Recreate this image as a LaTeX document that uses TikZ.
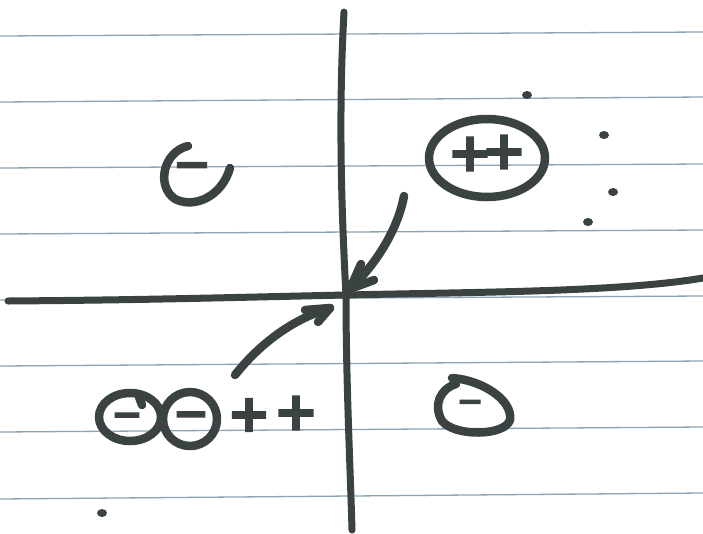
\documentclass[tikz,border=0pt]{standalone}
\usepackage{fontspec}
\usetikzlibrary{shapes.geometric}
\newfontfamily\penfont{DejaVu Sans Bold}[FakeBold=3]
\definecolor{ink}{RGB}{58,66,66}
\definecolor{ruleblue}{RGB}{140,165,182}
\begin{document}
\begin{tikzpicture}[x=1pt,y=-1pt,
  pen/.style={draw=ink, line width=8.5pt, line cap=round, line join=round},
  axisline/.style={draw=ink, line width=7pt, line cap=round},
  ruled/.style={draw=ruleblue, line width=1.3pt},
  sign/.style={text=ink, font=\penfont\fontsize{#1}{#1}\selectfont, inner sep=0pt},
  dotmark/.style={fill=ink, ellipse, inner sep=0pt, minimum width=10pt, minimum height=8pt}]
\useasboundingbox (0,0) rectangle (703,533);
\fill[white] (0,0) rectangle (703,533);
% ruled paper
\foreach \l/\r in {36/32,102/97,168/164,234/230,300/296,366/361,432/427,499/493}
  \draw[ruled] (0,\l) -- (703,\r);
% axes
\coordinate (o) at (346,295);
\coordinate (xl) at (8,301);
\coordinate (xr) at (703,278);
\coordinate (yt) at (344,12);
\coordinate (yb) at (352,530);
\draw[axisline] (xl) .. controls (150,300) and (250,297) .. (o)
  .. controls (480,292) and (620,292) .. (xr);
\draw[axisline] (yt) .. controls (338,120) and (342,220) .. (o)
  .. controls (346,380) and (350,460) .. (yb);
% top-left C with minus
\draw[pen] (188,146) .. controls (163,152) and (156,186) .. (175,199)
  .. controls (195,209) and (222,196) .. (230,168);
\node[sign=46] (m1) at (192,171) {−};
% top-right ellipse with ++
\draw[pen] (487,158) ellipse [x radius=58, y radius=39];
\node[sign=54] (p1) at (470,154) {+};
\node[sign=54] (p2) at (504,152) {+};
% dots
\node[dotmark] (d1) at (527,95) {};
\node[dotmark] (d2) at (604,135) {};
\node[dotmark] (d3) at (613,192) {};
\node[dotmark] (d4) at (588,222) {};
\node[dotmark] (d5) at (102,513) {};
% top-right arrow
\coordinate (a1s) at (404,196);
\coordinate (a1t) at (350,289);
\draw[pen] (a1s) .. controls (398,228) and (378,262) .. (a1t);
\draw[pen] (a1t) -- (361,264);
\draw[pen] (a1t) -- (374,280);
% bottom-left arrow
\coordinate (a2s) at (235,375);
\coordinate (a2t) at (330,308);
\draw[pen] (a2s) .. controls (258,346) and (290,320) .. (a2t);
\draw[pen] (a2t) -- (305,310);
\draw[pen] (a2t) -- (318,322);
% bottom-left circles with minus and ++
\draw[pen] (130,417) ellipse [x radius=31, y radius=24];
\draw[pen] (139,397) -- (142,405);
\node[sign=38] (m2) at (127,420) {−};
\draw[pen] (190,419) ellipse [x radius=27, y radius=27];
\node[sign=44] (m3) at (191,420) {−};
\node[sign=52] (p3) at (249,415) {+};
\node[sign=54] (p4) at (296,413) {+};
% bottom-right loop with minus
\draw[pen] (452,378) .. controls (482,380) and (513,400) .. (510,420)
  .. controls (505,436) and (455,437) .. (442,421)
  .. controls (433,405) and (440,389) .. (456,384);
\node[sign=32] (m4) at (470,406) {−};
\end{tikzpicture}
\end{document}
